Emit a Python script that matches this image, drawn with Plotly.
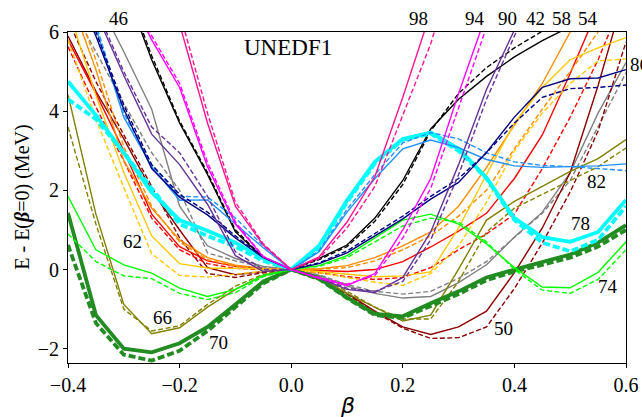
import plotly.graph_objects as go

# ---- data ----
BETA = [-0.40, -0.35, -0.30, -0.25, -0.20, -0.15, -0.10, -0.05, 0.00,
        0.05, 0.10, 0.15, 0.20, 0.25, 0.30, 0.35, 0.40, 0.45, 0.50, 0.55, 0.60]

N42_SOLID = [10.0, 8.6, 7.2, 5.3, 3.7, 2.4, 0.95, 0.3, 0, 0.28, 0.62, 1.3, 2.25, 3.55, 4.3, 4.88, 5.37, 5.78, 6.15, 6.5, 6.85]
N42_DASH = [10.1, 8.7, 7.3, 5.4, 3.75, 2.45, 1.0, 0.3, 0, 0.25, 0.58, 1.22, 2.15, 3.5, 4.45, 5.1, 5.6, 6.02, 6.4, 6.8, 7.2]

N46_SOLID = [8.3, 6.9, 5.5, 4.05, 1.6, 0.6, 0.28, 0.08, 0, -0.15, -0.42, -0.6, -0.72, -0.68, -0.33, 0.12, 0.82, 1.45, 2.45, 3.95, 5.23]
N46_DASH = [6.8, 5.5, 4.2, 2.95, 2.0, 0.42, 0.22, 0.06, 0, -0.13, -0.38, -0.55, -0.62, -0.55, -0.22, 0.2, 0.8, 1.42, 2.25, 3.6, 4.97]

N50_SOLID = [5.9, 4.5, 3.3, 2.0, 1.0, 0.05, -0.13, -0.05, 0, -0.25, -0.6, -1.05, -1.45, -1.64, -1.45, -1.05, -0.08, 1.05, 2.45, 4.65, 7.1]
N50_DASH = [6.3, 4.75, 3.4, 2.1, 0.8, -0.1, -0.2, -0.08, 0, -0.26, -0.62, -1.08, -1.48, -1.74, -1.72, -1.45, -0.48, 0.67, 1.96, 3.5, 5.75]

N54_SOLID = [5.8, 4.45, 3.0, 1.4, 0.58, 0.22, 0.08, 0.02, 0, -0.03, -0.05, 0.0, 0.2, 0.57, 0.97, 1.42, 2.3, 3.4, 4.95, 6.6, 8.3]
N54_DASH = [5.63, 4.1, 2.75, 1.3, 0.5, 0.15, 0.03, 0.0, 0, -0.08, -0.18, -0.25, -0.2, 0.05, 0.5, 0.9, 1.4, 2.55, 3.85, 5.3, 7.0]

N58_SOLID = [7.0, 5.05, 2.75, 1.55, 0.75, 0.3, 0.11, 0.03, 0, 0.02, 0.1, 0.3, 0.6, 0.95, 1.6, 2.58, 3.65, 4.7, 6.0, 7.2, 8.5]
N58_DASH = [7.2, 5.3, 3.1, 1.6, 0.7, 0.25, 0.08, 0.02, 0, 0.01, 0.05, 0.22, 0.5, 0.85, 1.35, 2.0, 3.05, 4.05, 5.0, 6.0, 7.0]

N62_SOLID = [6.6, 4.4, 2.45, 0.85, 0.15, 0.04, 0.03, 0.01, 0, -0.05, -0.12, -0.18, -0.16, -0.06, 1.05, 2.4, 3.7, 4.6, 5.3, 5.6, 5.86]
N62_DASH = [5.8, 3.8, 2.07, 0.4, -0.15, -0.19, -0.12, -0.04, 0, -0.08, -0.2, -0.32, -0.4, -0.1, 0.6, 1.7, 3.0, 3.95, 4.7, 5.27, 5.32]

N66_SOLID = [4.42, 1.4, -0.88, -1.62, -1.47, -0.95, -0.5, -0.15, 0, -0.2, -0.6, -0.95, -1.3, -1.15, 0.01, 1.25, 1.72, 2.1, 2.48, 2.8, 3.28]
N66_DASH = [3.6, 1.15, -1.0, -1.55, -1.42, -0.88, -0.42, -0.12, 0, -0.18, -0.55, -0.95, -1.25, -1.25, -0.3, 0.95, 1.55, 1.9, 2.25, 2.6, 3.07]

N70_SOLID = [1.43, -1.15, -2.0, -2.09, -1.86, -1.45, -0.88, -0.3, 0, -0.22, -0.7, -1.12, -1.18, -0.85, -0.55, -0.2, 0.0, 0.18, 0.38, 0.68, 1.12]
N70_DASH = [0.62, -1.35, -2.15, -2.3, -2.05, -1.55, -0.95, -0.35, 0, -0.24, -0.72, -1.15, -1.22, -0.92, -0.62, -0.27, -0.05, 0.12, 0.3, 0.58, 1.0]

N74_SOLID = [1.85, 0.5, 0.12, -0.09, -0.47, -0.68, -0.5, -0.15, 0, 0.1, 0.35, 0.8, 1.25, 1.4, 1.15, 0.65, 0.05, -0.44, -0.46, -0.07, 0.7]
N74_DASH = [0.9, 0.2, -0.16, -0.23, -0.6, -0.76, -0.58, -0.18, 0, 0.08, 0.3, 0.7, 1.1, 1.3, 1.2, 0.7, 0.0, -0.52, -0.6, -0.25, 0.5]

N78_SOLID = [4.75, 3.9, 2.95, 1.95, 1.25, 0.98, 0.68, 0.28, 0, 0.6, 1.75, 2.72, 3.3, 3.46, 3.05, 2.32, 1.3, 0.82, 0.7, 0.95, 1.76]
N78_DASH = [4.3, 3.8, 2.95, 2.05, 1.15, 0.85, 0.58, 0.22, 0, 0.55, 1.7, 2.68, 3.28, 3.43, 3.0, 2.3, 1.25, 0.68, 0.46, 0.75, 1.6]

N82_SOLID = [7.5, 6.1, 3.85, 2.6, 1.75, 1.76, 1.15, 0.55, 0, 0.45, 1.45, 2.3, 3.05, 3.27, 3.08, 2.78, 2.62, 2.58, 2.6, 2.62, 2.67]
N82_DASH = [7.6, 6.2, 3.95, 2.65, 1.85, 1.83, 1.3, 0.6, 0, 0.48, 1.52, 2.4, 3.2, 3.46, 3.3, 2.95, 2.72, 2.63, 2.6, 2.55, 2.5]

N86_SOLID = [7.5, 5.9, 4.05, 2.55, 1.83, 1.38, 0.8, 0.3, 0, 0.15, 0.42, 0.85, 1.28, 1.78, 2.2, 2.96, 3.85, 4.6, 4.82, 4.84, 5.05]
N86_DASH = [7.6, 6.0, 4.15, 2.65, 1.9, 1.45, 0.85, 0.32, 0, 0.17, 0.47, 0.92, 1.35, 1.85, 2.3, 2.95, 3.7, 4.35, 4.57, 4.6, 4.66]

N90_SOLID = [8.0, 6.5, 4.9, 3.42, 2.65, 1.65, 0.35, -0.05, 0, -0.22, -0.5, -0.58, -0.2, 0.95, 2.65, 4.55, 6.05, 7.6, 9.0, 10.5, 12.0]
N90_DASH = [8.1, 6.6, 5.0, 3.6, 2.95, 1.85, 0.45, 0.0, 0, -0.2, -0.47, -0.55, -0.3, 0.75, 2.4, 4.3, 5.9, 7.4, 8.8, 10.2, 11.6]

N94_SOLID = [11.0, 9.0, 7.2, 5.8, 4.6, 2.6, 1.15, 0.32, 0, -0.22, -0.4, -0.1, 1.0, 2.3, 4.45, 6.5, 8.5, 10.5, 12.5, 14.5, 16.5]
N94_DASH = [11.0, 9.1, 7.3, 5.9, 4.7, 2.7, 1.2, 0.33, 0, -0.2, -0.37, -0.15, 0.8, 2.05, 4.15, 6.3, 8.3, 10.3, 12.3, 14.3, 16.3]

N98_SOLID = [15.0, 12.5, 10.0, 8.0, 6.2, 3.7, 1.6, 0.62, 0, 0.32, 1.2, 2.35, 4.35, 6.5, 9.0, 11.5, 14.0, 16.0, 18.0, 20.0, 22.0]
N98_DASH = [15.2, 12.7, 10.2, 8.2, 6.5, 3.95, 1.7, 0.65, 0, 0.28, 1.05, 2.1, 3.9, 5.7, 8.0, 10.5, 13.0, 15.0, 17.0, 19.0, 21.0]

NUCLEI = [42, 46, 50, 54, 58, 62, 66, 70, 74, 78, 82, 86, 90, 94, 98]
COLORS = ["#000000", "#808080", "#8B0000", "#FF0000", "#FF8C00", "#FFC800", "#808000",
          "#228B22", "#00FF00", "#00FFFF", "#1E90FF", "#000080", "#663399", "#FF00FF", "#FF1493"]
SOLIDS = [N42_SOLID, N46_SOLID, N50_SOLID, N54_SOLID, N58_SOLID, N62_SOLID, N66_SOLID, N70_SOLID,
          N74_SOLID, N78_SOLID, N82_SOLID, N86_SOLID, N90_SOLID, N94_SOLID, N98_SOLID]
DASHES = [N42_DASH, N46_DASH, N50_DASH, N54_DASH, N58_DASH, N62_DASH, N66_DASH, N70_DASH,
          N74_DASH, N78_DASH, N82_DASH, N86_DASH, N90_DASH, N94_DASH, N98_DASH]
THICK = [70, 78]

# labels above the frame: text and beta position
TOP_TEXT = ["46", "98", "94", "90", "42", "58", "54"]
TOP_BETA = [-0.310, 0.229, 0.329, 0.388, 0.437, 0.485, 0.532]
# labels inside the frame: text, beta, energy
IN_TEXT = ["82", "78", "74", "50", "70", "66", "62"]
IN_BETA = [0.548, 0.518, 0.568, 0.380, -0.131, -0.230, -0.285]
IN_E = [2.23, 1.17, -0.44, -1.48, -1.83, -1.2, 0.72]
RIGHT_TEXT = "86"
RIGHT_E = 5.17

SERIF = "Liberation Serif, Times New Roman, serif"
X0, X1 = -0.4, 0.6
Y0, Y1 = -2.36, 6.0

fig = go.Figure()
for n, col, ys, yd in zip(NUCLEI, COLORS, SOLIDS, DASHES):
    w = 3.8 if n in THICK else 1.4
    dash = "7px,3px" if n in THICK else "5px,2.5px"
    fig.add_trace(go.Scatter(x=BETA, y=ys, mode="lines", line=dict(color=col, width=w),
                             showlegend=False, hoverinfo="skip"))
    fig.add_trace(go.Scatter(x=BETA, y=yd, mode="lines", line=dict(color=col, width=w, dash=dash),
                             showlegend=False, hoverinfo="skip"))

lab_font = dict(family=SERIF, size=19, color="black")
for t, bx in zip(TOP_TEXT, TOP_BETA):
    fig.add_annotation(xref="paper", yref="paper", x=(bx - X0) / (X1 - X0), y=1.042, text=t,
                       showarrow=False, xanchor="center", yanchor="middle", font=lab_font)
for t, bx, ey in zip(IN_TEXT, IN_BETA, IN_E):
    fig.add_annotation(x=bx, y=ey, text=t, showarrow=False, xanchor="center", yanchor="middle",
                       font=lab_font)
fig.add_annotation(xref="paper", yref="paper", x=1.003, y=(RIGHT_E - Y0) / (Y1 - Y0), text=RIGHT_TEXT,
                   showarrow=False, xanchor="left", yanchor="middle", font=lab_font)

fig.add_annotation(x=-0.006, y=5.6, text="UNEDF1", showarrow=False,
                   font=dict(family=SERIF, size=23, color="black"))

fig.add_annotation(xref="paper", yref="paper", x=0.5, y=-0.127, text="<i>β</i>", showarrow=False,
                   yanchor="middle", font=dict(family="DejaVu Sans", size=22, color="black"))
fig.add_annotation(xref="paper", yref="paper", x=-0.082, y=0.5, textangle=-90,
                   text="E - E(<b><i>β</i></b>=0) (MeV)", showarrow=False,
                   xanchor="center", yanchor="middle",
                   font=dict(family=SERIF, size=20, color="black"))

axis_common = dict(showgrid=False, zeroline=False, ticks="outside", ticklen=4, tickwidth=1,
                   tickcolor="black", showline=True, linecolor="black", linewidth=1, mirror=True,
                   tickfont=dict(family=SERIF, size=20, color="black"))
fig.update_xaxes(range=[X0, X1], tickvals=[-0.4, -0.2, 0.0, 0.2, 0.4, 0.6], tickformat=".1f",
                 **axis_common)
fig.update_yaxes(range=[Y0, Y1], tickvals=[-2, 0, 2, 4, 6], **axis_common)

fig.update_layout(width=642, height=417,
                  margin=dict(l=68, r=16, t=32, b=54, autoexpand=False),
                  plot_bgcolor="white", paper_bgcolor="white", hovermode=False)

fig.write_html("out.html", config={"displayModeBar": False, "staticPlot": True},
               post_script="document.body.style.margin='0px';document.body.style.overflow='hidden';")
